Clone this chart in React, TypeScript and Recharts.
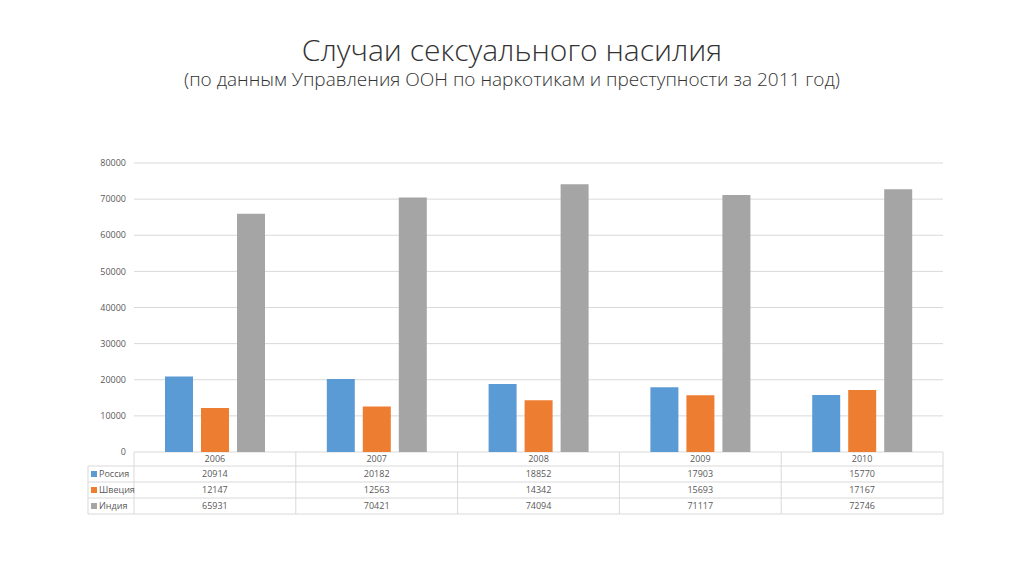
import React from 'react';
import { BarChart, Bar, XAxis, YAxis, CartesianGrid } from 'recharts';

const years = ['2006', '2007', '2008', '2009', '2010'];
const russia = [20914, 20182, 18852, 17903, 15770];
const sweden = [12147, 12563, 14342, 15693, 17167];
const india = [65931, 70421, 74094, 71117, 72746];
const yTicks = [0, 10000, 20000, 30000, 40000, 50000, 60000, 70000, 80000];

const seriesList = [
  { key: 'russia', name: 'Россия', color: '#5B9BD5', values: russia },
  { key: 'sweden', name: 'Швеция', color: '#ED7D31', values: sweden },
  { key: 'india', name: 'Индия', color: '#A5A5A5', values: india },
];

const data = years.map((year, i) => ({
  year,
  russia: russia[i],
  sweden: sweden[i],
  india: india[i],
}));

// plot area layout
const W = 1024;
const H = 574;
const plotLeft = 134;
const plotRight = 943;
const plotTop = 163;
const plotBottom = 452;
const tableLeft = 88;
const rowH = 16;
const headerH = 14;

const DataTable: React.FC = () => {
  const colW = (plotRight - plotLeft) / years.length;
  const tableBottom = plotBottom + headerH + rowH * seriesList.length;
  const lineColor = '#D9D9D9';
  const textColor = '#595959';
  return (
    <svg width={W} height={H} style={{ position: 'absolute', left: 0, top: 0, pointerEvents: 'none' }}>
      {/* vertical lines */}
      <line x1={tableLeft} x2={tableLeft} y1={plotBottom + headerH} y2={tableBottom} stroke={lineColor} />
      {years.map((_, i) => (
        <line key={`v${i}`} x1={plotLeft + i * colW} x2={plotLeft + i * colW} y1={plotBottom} y2={tableBottom} stroke={lineColor} />
      ))}
      <line x1={plotRight} x2={plotRight} y1={plotBottom} y2={tableBottom} stroke={lineColor} />
      {/* horizontal lines */}
      {seriesList.map((_, r) => (
        <line key={`h${r}`} x1={tableLeft} x2={plotRight} y1={plotBottom + headerH + r * rowH} y2={plotBottom + headerH + r * rowH} stroke={lineColor} />
      ))}
      <line x1={tableLeft} x2={plotRight} y1={tableBottom} y2={tableBottom} stroke={lineColor} />
      {/* header */}
      {years.map((y, i) => (
        <text key={`y${i}`} x={plotLeft + (i + 0.5) * colW} y={plotBottom + headerH / 2 + 3} textAnchor="middle" fontSize={9} fill={textColor}>
          {y}
        </text>
      ))}
      {seriesList.map((s, r) => {
        const cy = plotBottom + headerH + r * rowH + rowH / 2;
        return (
          <g key={s.key}>
            <rect x={tableLeft + 3} y={cy - 3} width={6} height={6} fill={s.color} />
            <text x={tableLeft + 11} y={cy + 3} fontSize={9} fill={textColor}>{s.name}</text>
            {s.values.map((v, i) => (
              <text key={i} x={plotLeft + (i + 0.5) * colW} y={cy + 3} textAnchor="middle" fontSize={9} fill={textColor}>
                {v}
              </text>
            ))}
          </g>
        );
      })}
    </svg>
  );
};

const App: React.FC = () => {
  return (
    <div
      style={{
        position: 'fixed',
        left: 0,
        top: 0,
        width: W,
        height: H,
        background: '#fff',
        fontFamily: "'Open Sans', 'Noto Sans', sans-serif",
      }}
    >
      <div style={{ position: 'absolute', top: 32, left: 0, width: W, textAlign: 'center', fontSize: 30, fontWeight: 300, color: '#333', lineHeight: '36px' }}>
        Случаи сексуального насилия
      </div>
      <div style={{ position: 'absolute', top: 66, left: 0, width: W, textAlign: 'center', fontSize: 19, fontWeight: 300, color: '#333', lineHeight: '26px' }}>
        (по данным Управления ООН по наркотикам и преступности за 2011 год)
      </div>
      <div style={{ position: 'absolute', left: 0, top: 0 }}>
        <BarChart
          width={W}
          height={H}
          data={data}
          margin={{ top: plotTop, right: W - plotRight, bottom: H - plotBottom - 20, left: plotLeft - 46 }}
          barGap={8}
          barCategoryGap={31}
        >
          <CartesianGrid vertical={false} stroke="#D9D9D9" />
          <XAxis dataKey="year" height={20} axisLine={false} tickLine={false} tick={false} />
          <YAxis
            width={46}
            domain={[0, 80000]}
            ticks={yTicks}
            axisLine={false}
            tickLine={false}
            tick={{ fontSize: 9, fill: '#595959' }}
            interval={0}
          />
          {seriesList.map((s) => (
            <Bar key={s.key} dataKey={s.key} name={s.name} fill={s.color} isAnimationActive={false} />
          ))}
        </BarChart>
      </div>
      <DataTable />
    </div>
  );
};

export default App;
